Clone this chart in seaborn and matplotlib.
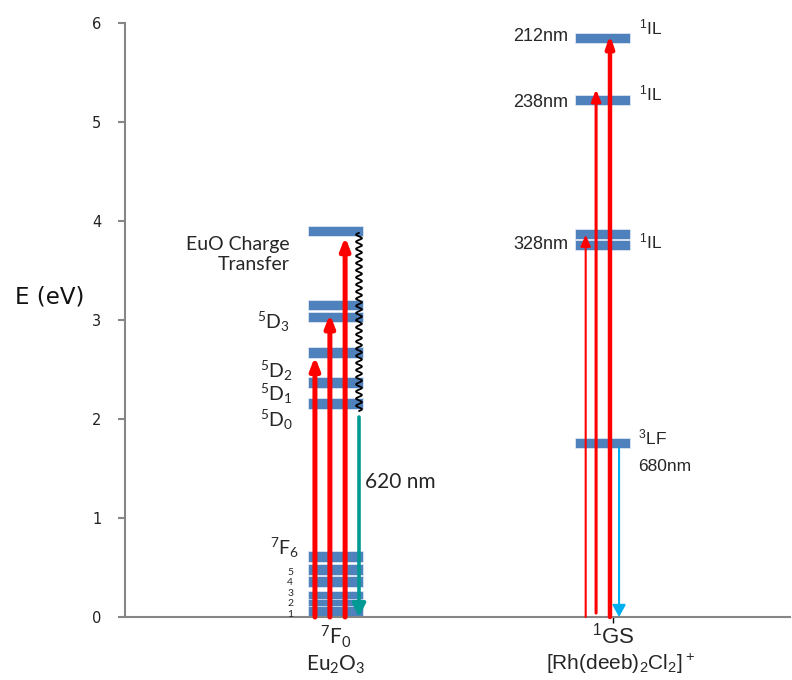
import numpy as np
import pandas as pd
import matplotlib
matplotlib.use("Agg")
import matplotlib.pyplot as plt
import seaborn as sns

# ---------------- data ----------------
columns = ["Eu2O3", "Rh"]
col_x = [1.0, 2.0]

eu_levels = [3.90, 3.15, 3.03, 2.67, 2.37, 2.155, 0.61, 0.48, 0.36, 0.21, 0.13, 0.055]
rh_levels = [5.85, 5.22, 3.87, 3.76, 1.755]
level_height = 0.105
level_width = 0.206

# excitation arrows (offset from column center, start, end, width)
eu_exc_offset = [-0.077, -0.021, 0.036]
eu_exc_top = [2.63, 3.06, 3.84]
rh_exc_offset = [-0.063, -0.024, 0.028]
rh_exc_bottom = [0.0, 0.04, 0.0]
rh_exc_top = [3.86, 5.33, 5.88]
rh_exc_lw = [1.5, 2.2, 3.2]

eu_relax = (0.088, 3.88, 2.08)      # offset, from, to
eu_emis = (0.088, 2.02, 0.0)
rh_emis = (0.062, 1.71, 0.0)

yticks = [0, 1, 2, 3, 4, 5, 6]

# ---------------- style ----------------
sns.set_theme(style="white")
plt.rcParams["font.family"] = ["DejaVu Sans"]

LATO = ["Lato", "DejaVu Sans"]
ARIAL = ["Liberation Sans", "DejaVu Sans"]
BAR = "#4F81BD"
RED = "#FF0000"
TEAL = "#009A94"
BLUE = "#00B0F0"
GRAY = "#868686"

fig = plt.figure(figsize=(7.92, 6.8), dpi=100)
ax = fig.add_axes([125/792, 1-617/680, (790-125)/792, (617-23)/680])
ax.set_xlim(1 - 210.5/267, 2 + 187.5/267)
ax.set_ylim(0, 6)

levels = pd.DataFrame({
    "x": [col_x[0]]*len(eu_levels) + [col_x[1]]*len(rh_levels),
    "E": eu_levels + rh_levels,
})
ax.bar(levels["x"], level_height, bottom=levels["E"] - level_height/2,
       width=level_width, color=BAR, edgecolor="#e8eef7", linewidth=0.5, zorder=2)

def arrow(x, y0, y1, color, lw, hw, hl):
    ax.annotate("", xy=(x, y1), xytext=(x, y0),
                arrowprops=dict(arrowstyle=f"-|>,head_length={hl},head_width={hw}",
                                color=color, lw=lw, shrinkA=0, shrinkB=0,
                                mutation_scale=20),
                zorder=4, annotation_clip=False)

for off, top in zip(eu_exc_offset, eu_exc_top):
    arrow(col_x[0] + off, 0.0, top, RED, 3.6, 0.14, 0.36)

for off, b, t, lw in zip(rh_exc_offset, rh_exc_bottom, rh_exc_top, rh_exc_lw):
    arrow(col_x[1] + off, b, t, RED, lw, 0.18 - lw*0.02, 0.34)

# wavy relaxation
off, ya, yb = eu_relax
yy = np.linspace(yb, ya, 600)
xx = col_x[0] + off + 0.011*np.sin(2*np.pi*(yy - yb)/0.072)
ax.plot(xx, yy, color="black", lw=1.3, zorder=4)

arrow(col_x[0] + eu_emis[0], eu_emis[1], eu_emis[2], TEAL, 2.6, 0.20, 0.40)
arrow(col_x[1] + rh_emis[0], rh_emis[1], rh_emis[2], BLUE, 1.5, 0.20, 0.36)

# ---------------- axes styling ----------------
sns.despine(ax=ax)
for s in ["left", "bottom"]:
    ax.spines[s].set_color(GRAY)
    ax.spines[s].set_linewidth(1.5)
ax.set_yticks(yticks)
ax.set_yticklabels([str(t) for t in yticks], fontsize=10.5, color="#222222")
ax.tick_params(axis="y", direction="out", length=5, width=1.5, color=GRAY, pad=12, left=True)
ax.set_xticks([col_x[1] + 0.039])
ax.set_xticklabels([""])
ax.tick_params(axis="x", direction="out", length=4, width=1, color="black", bottom=True)
ax.grid(False)
ax.set_ylabel("E (eV)", rotation=0, fontsize=16.5, color="#111111", va="center", ha="center")
ax.yaxis.set_label_coords((50-125)/665, (617-297)/594)

# ---------------- labels ----------------
L = col_x[0]
ax.text(L - 0.170, 3.66, "EuO Charge\nTransfer", ha="right", va="center",
        family=LATO, fontsize=14, multialignment="right", linespacing=1.2)
for txt, y, dx in [(r"$\mathregular{^5D_3}$", 2.98, -0.170),
                   (r"$\mathregular{^5D_2}$", 2.49, -0.160),
                   (r"$\mathregular{^5D_1}$", 2.25, -0.160),
                   (r"$\mathregular{^5D_0}$", 1.99, -0.160),
                   (r"$\mathregular{^7F_6}$", 0.70, -0.135)]:
    ax.text(L + dx, y, txt, ha="right", va="center", family=LATO, fontsize=14)
for txt, y in [("5", 0.45), ("4", 0.345), ("3", 0.24), ("2", 0.135), ("1", 0.03)]:
    ax.text(L - 0.170, y, txt, ha="center", va="center", family=LATO, fontsize=7.5)
ax.text(L + 0.11, 1.36, "620 nm", ha="left", va="center", family=LATO, fontsize=15)
ax.text(L, -0.20, r"$\mathregular{^7F_0}$", ha="center", va="center", family=LATO, fontsize=15)
ax.text(L, -0.48, r"Eu$\mathregular{_2}$O$\mathregular{_3}$", ha="center", va="center",
        family=LATO, fontsize=15)

R = col_x[1]
for txt, y in [("212nm", 5.86), ("238nm", 5.20), ("328nm", 3.76)]:
    ax.text(R - 0.129, y, txt, ha="right", va="center", family=ARIAL, fontsize=13)
for y in [5.95, 5.29, 3.79]:
    ax.text(R + 0.135, y, r"$\mathregular{^1}$IL", ha="left", va="center", family=ARIAL, fontsize=12.5)
ax.text(R + 0.133, 1.81, r"$\mathregular{^3}$LF", ha="left", va="center", family=ARIAL, fontsize=12.5)
ax.text(R + 0.133, 1.52, "680nm", ha="left", va="center", family=ARIAL, fontsize=12.5)
ax.text(R + 0.039, -0.19, r"$\mathregular{^1}$GS", ha="center", va="center", family=ARIAL, fontsize=16)
ax.text(R + 0.066, -0.47, r"[Rh(deeb)$\mathregular{_2}$Cl$\mathregular{_2}$]$\mathregular{^+}$",
        ha="center", va="center", family=ARIAL, fontsize=15)

fig.savefig("out.png", dpi=100)
